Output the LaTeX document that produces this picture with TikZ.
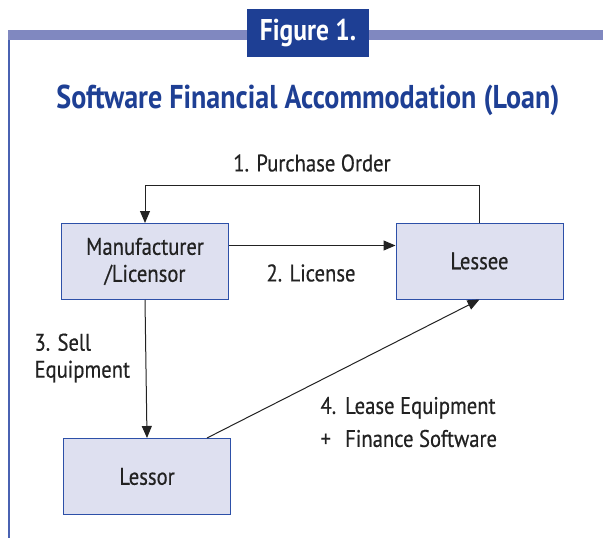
\documentclass[tikz,border=0pt]{standalone}
\usepackage{fontspec}
\setmainfont{PT Sans}[FakeStretch=0.86,FakeBold=0.5]
\newfontfamily\headfont{PT Sans}[FakeStretch=0.85]
\usetikzlibrary{arrows.meta}

\definecolor{barblue}{HTML}{8088C0}
\definecolor{darkblue}{HTML}{1E3F94}
\definecolor{lineblue}{HTML}{4A62B2}
\definecolor{boxfill}{HTML}{DEE0F0}
\definecolor{boxline}{HTML}{2D50A8}
\definecolor{inkgray}{HTML}{222222}

\tikzset{
  party/.style={draw=boxline, fill=boxfill, line width=1pt, minimum width=167pt,
    minimum height=76pt, align=center, text=inkgray, font=\fontsize{24}{27}\selectfont},
  flow/.style={draw=inkgray, line width=1pt, -{Triangle[length=12pt,width=10pt]}},
  flowlabel/.style={text=inkgray, font=\fontsize{24}{27}\selectfont}
}

\begin{document}
\begin{tikzpicture}[x=1pt,y=-1pt]
            \useasboundingbox (0,0) rectangle (603,538);

            % Frame with heading bar
            \fill[barblue] (8,30) rectangle (603,40);
            \fill[lineblue] (8,40) rectangle (10,538);
            \node[fill=darkblue, text=white, minimum width=122pt, minimum height=48pt,
              font=\headfont\bfseries\fontsize{30}{32}\selectfont] (fig) at (308,33) {Figure 1.};

            % Title
            \node[text=darkblue, font=\headfont\bfseries\fontsize{33}{36}\selectfont] (title) at (308,100)
              {Software Financial Accommodation (Loan)};

            % Parties
            \node[party] (manuf) at (145,261.5) {Manufacturer\\/Licensor};
            \node[party] (lessee) at (479.5,261) {Lessee};
            \node[party] (lessor) at (147,476.5) {Lessor};

            % 1. Purchase order
            \draw[flow] (lessee.north) -- ++(0,-37) -| (manuf.north);
            \node[flowlabel] (l1) at (312,163) {1. Purchase Order};

            % 2. License
            \draw[flow] ([yshift=16pt]manuf.east) -- ([yshift=16pt]manuf.east -| lessee.west);
            \node[flowlabel] (l2) at (311,273) {2. License};

            % 3. Sell equipment
            \draw[flow] (manuf.south) -- (lessor.north);
            \node[flowlabel, align=left, anchor=west] (l3) at (31,358) {3. Sell\\Equipment};

            % 4. Lease + finance
            \draw[flow] ([xshift=60pt]lessor.north) -- (lessee.south);
            \node[flowlabel, anchor=west] (l4) at (317,425)
              {\begin{tabular}{@{}l@{\hspace{9pt}}l@{}}4. & Lease Equipment\\[6pt] + & Finance Software\end{tabular}};
\end{tikzpicture}
\end{document}
